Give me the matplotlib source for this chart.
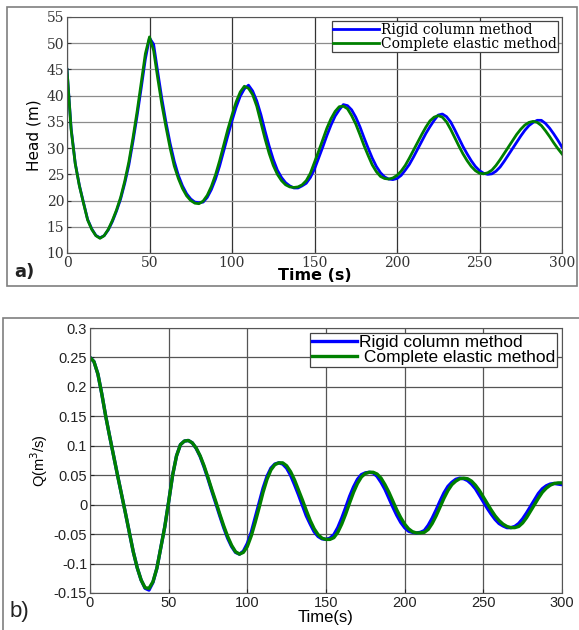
import numpy as np
import matplotlib
matplotlib.use("Agg")
import matplotlib.pyplot as plt
from matplotlib.patches import Rectangle

# sample times (s), every 2.5 s
t = np.arange(0, 302.5, 2.5)

# a) head (m)
head_rigid = [
    45.0, 33.8, 27.1, 22.9, 19.6, 16.4, 14.6, 13.35, 12.9, 13.3,
    14.4, 16.0, 18.0, 20.3, 23.3, 26.8, 31.3, 36.2, 41.5, 47.0,
    51.0, 49.8, 44.5, 39.4, 34.9, 30.9, 27.5, 24.8, 22.8, 21.3,
    20.3, 19.7, 19.6, 19.7, 20.6, 22.1, 24.1, 26.6, 29.5, 32.4,
    35.2, 37.8, 39.9, 41.3, 42.0, 40.9, 39.0, 36.4, 33.3, 30.4,
    27.85, 25.8, 24.4, 23.4, 22.8, 22.4, 22.4, 22.8, 23.3, 24.4,
    26.0, 28.1, 30.2, 32.4, 34.4, 36.1, 37.3, 38.3, 38.1, 37.3,
    35.9, 34.1, 32.0, 30.0, 28.1, 26.5, 25.3, 24.5, 24.1, 24.0,
    24.2, 24.8, 25.8, 26.9, 28.3, 29.8, 31.3, 32.8, 34.1, 35.3,
    36.3, 36.5, 36.0, 35.0, 33.5, 31.9, 30.3, 28.9, 27.6, 26.5,
    25.7, 25.2, 25.0, 25.1, 25.6, 26.4, 27.5, 28.7, 29.9, 31.1,
    32.3, 33.4, 34.3, 34.9, 35.3, 35.3, 34.7, 33.8, 32.7, 31.5,
    30.2,
]
head_elastic = [
    45.0, 33.5, 27.0, 22.8, 19.5, 16.3, 14.5, 13.3, 12.8, 13.3,
    14.5, 16.2, 18.2, 20.6, 23.7, 27.4, 32.0, 37.0, 42.5, 48.0,
    51.2, 48.6, 43.3, 38.3, 34.0, 30.0, 26.6, 24.2, 22.3, 20.9,
    20.0, 19.5, 19.4, 19.9, 21.0, 22.7, 24.9, 27.6, 30.6, 33.6,
    36.3, 38.8, 40.7, 41.8, 41.4, 40.2, 38.0, 34.9, 31.8, 29.0,
    26.7, 25.0, 23.8, 23.0, 22.6, 22.5, 22.6, 23.0, 23.8, 25.2,
    27.3, 29.4, 31.6, 33.8, 35.6, 37.0, 37.9, 38.0, 37.5, 36.2,
    34.6, 32.6, 30.5, 28.6, 26.8, 25.5, 24.6, 24.2, 24.1, 24.3,
    24.8, 25.6, 26.7, 28.1, 29.6, 31.1, 32.6, 34.0, 35.2, 35.9,
    36.2, 35.9, 35.0, 33.6, 32.0, 30.4, 28.9, 27.6, 26.5, 25.7,
    25.2, 25.1, 25.3, 25.8, 26.7, 27.8, 29.0, 30.2, 31.4, 32.6,
    33.6, 34.4, 34.9, 35.1, 34.9, 34.3, 33.3, 32.2, 31.0, 29.9,
    28.9,
]

# b) discharge Q (m3/s)
q_rigid = [
    0.250, 0.243, 0.222, 0.188, 0.150, 0.116, 0.083, 0.050, 0.018, -0.014,
    -0.047, -0.080, -0.107, -0.128, -0.142, -0.145, -0.132, -0.108, -0.073, -0.038,
    0.005, 0.050, 0.083, 0.102, 0.108, 0.109, 0.105, 0.0955, 0.082, 0.064,
    0.044, 0.0225, 0.002, -0.019, -0.039, -0.057, -0.071, -0.081, -0.084, -0.079,
    -0.066, -0.047, -0.022, 0.003, 0.028, 0.048, 0.062, 0.069, 0.071, 0.069,
    0.062, 0.050, 0.034, 0.017, -0.001, -0.019, -0.033, -0.046, -0.054, -0.058,
    -0.059, -0.057, -0.051, -0.039, -0.023, -0.005, 0.014, 0.030, 0.043, 0.051,
    0.054, 0.055, 0.054, 0.048, 0.038, 0.026, 0.011, -0.004, -0.018, -0.030,
    -0.039, -0.045, -0.047, -0.048, -0.047, -0.044, -0.035, -0.023, -0.009, 0.006,
    0.020, 0.031, 0.038, 0.043, 0.045, 0.044, 0.041, 0.035, 0.027, 0.016,
    0.005, -0.006, -0.016, -0.025, -0.032, -0.036, -0.039, -0.039, -0.037, -0.032,
    -0.024, -0.014, -0.003, 0.008, 0.019, 0.027, 0.032, 0.035, 0.036, 0.035,
    0.034,
]
q_elastic = [
    0.250, 0.243, 0.222, 0.188, 0.150, 0.116, 0.083, 0.050, 0.018, -0.014,
    -0.047, -0.080, -0.107, -0.128, -0.141, -0.142, -0.131, -0.108, -0.073, -0.038,
    0.005, 0.050, 0.083, 0.102, 0.108, 0.109, 0.105, 0.096, 0.083, 0.066,
    0.046, 0.025, 0.005, -0.016, -0.036, -0.054, -0.069, -0.080, -0.084, -0.081,
    -0.071, -0.053, -0.030, -0.005, 0.021, 0.043, 0.059, 0.068, 0.071, 0.071,
    0.066, 0.056, 0.042, 0.025, 0.008, -0.010, -0.027, -0.041, -0.051, -0.057,
    -0.059, -0.059, -0.056, -0.047, -0.033, -0.016, 0.003, 0.021, 0.036, 0.047,
    0.053, 0.055, 0.055, 0.052, 0.045, 0.034, 0.021, 0.006, -0.009, -0.022,
    -0.033, -0.041, -0.046, -0.048, -0.048, -0.047, -0.042, -0.032, -0.019, -0.004,
    0.011, 0.024, 0.034, 0.040, 0.044, 0.045, 0.044, 0.040, 0.033, 0.024,
    0.013, 0.002, -0.009, -0.019, -0.027, -0.033, -0.037, -0.039, -0.039, -0.037,
    -0.031, -0.022, -0.011, 0.000, 0.011, 0.021, 0.028, 0.033, 0.036, 0.037,
    0.037,
]

labels_top = ["Rigid column method", "Complete elastic method"]
labels_bot = ["Rigid column method", " Complete elastic method"]

BLUE = "#0000ff"
GREEN = "#008000"

fig = plt.figure(figsize=(5.79, 6.30), dpi=100)

# panel frames
fig.patches.append(Rectangle((7 / 579, 1 - 286 / 630), 570 / 579, 279 / 630,
                             transform=fig.transFigure, fill=False,
                             edgecolor="#7f7f7f", lw=1.2))
fig.patches.append(Rectangle((3 / 579, -0.05), 1.0, 0.05 + 1 - 318 / 630,
                             transform=fig.transFigure, fill=False,
                             edgecolor="#7f7f7f", lw=1.2))

# ---- a) head ----
ax1 = fig.add_axes([67 / 579, 1 - 253 / 630, 495 / 579, 236 / 630])
ax1.plot(t, head_rigid, color=BLUE, lw=2.0, label=labels_top[0])
ax1.plot(t, head_elastic, color=GREEN, lw=2.0, label=labels_top[1])
ax1.set_xlim(0, 300)
ax1.set_ylim(10, 55)
ax1.set_xticks(np.arange(0, 301, 50))
ax1.set_yticks(np.arange(10, 56, 5))
ax1.xaxis.grid(True, color="#333333", lw=0.9)
ax1.yaxis.grid(True, color="#8c8c8c", lw=0.9)
ax1.set_axisbelow(True)
ax1.tick_params(direction="in", length=3, labelsize=10, colors="#333333", pad=2)
for lab in ax1.get_xticklabels() + ax1.get_yticklabels():
    lab.set_family("DejaVu Serif")
for s in ax1.spines.values():
    s.set_color("#555555")
ax1.set_ylabel("Head (m)", fontsize=11, family="Liberation Sans Narrow", labelpad=4)
ax1.set_xlabel("Time (s)", fontsize=11.5, fontweight="bold", labelpad=-1)
leg1 = ax1.legend(loc="upper right", prop={"family": "DejaVu Serif", "size": 10},
                  fancybox=False, edgecolor="#444444", framealpha=1,
                  borderpad=0.1, labelspacing=0.0, handlelength=3.3,
                  handletextpad=0.1, borderaxespad=0.3)
leg1.get_frame().set_linewidth(0.9)
fig.text(14 / 579, 1 - 272 / 630, "a)", fontsize=13, fontweight="bold",
         va="center", ha="left", color="#222222")

# ---- b) discharge ----
ax2 = fig.add_axes([90 / 579, 1 - 593 / 630, 472 / 579, 265 / 630])
ax2.plot(t, q_rigid, color=BLUE, lw=2.4, label=labels_bot[0])
ax2.plot(t, q_elastic, color=GREEN, lw=2.4, label=labels_bot[1])
ax2.set_xlim(0, 300)
ax2.set_ylim(-0.15, 0.3)
ax2.set_xticks(np.arange(0, 301, 50))
ax2.set_yticks([-0.15, -0.1, -0.05, 0, 0.05, 0.1, 0.15, 0.2, 0.25, 0.3])
ax2.set_yticklabels(["-0.15", "-0.1", "-0.05", "0", "0.05", "0.1", "0.15",
                     "0.2", "0.25", "0.3"])
ax2.grid(True, color="#555555", lw=0.9)
ax2.set_axisbelow(True)
ax2.tick_params(direction="in", length=3, labelsize=10.5, colors="#222222", pad=2)
for lab in ax2.get_xticklabels() + ax2.get_yticklabels():
    lab.set_family("Liberation Sans")
for s in ax2.spines.values():
    s.set_color("#555555")
ax2.set_ylabel("Q(m$^3$/s)", fontsize=10.5, family="Liberation Sans", labelpad=3)
ax2.set_xlabel("Time(s)", fontsize=12, family="Liberation Sans", labelpad=0)
leg2 = ax2.legend(loc="upper right", prop={"family": "Liberation Sans", "size": 12.5},
                  fancybox=False, edgecolor="#444444", framealpha=1,
                  borderpad=0.1, labelspacing=0.0, handlelength=2.6,
                  handletextpad=0.1, borderaxespad=0.3)
leg2.get_frame().set_linewidth(0.9)
fig.text(10 / 579, 1 - 612 / 630, "b)", fontsize=16, family="Liberation Sans",
         va="center", ha="left", color="#222222")

fig.savefig("out.png", dpi=100)
